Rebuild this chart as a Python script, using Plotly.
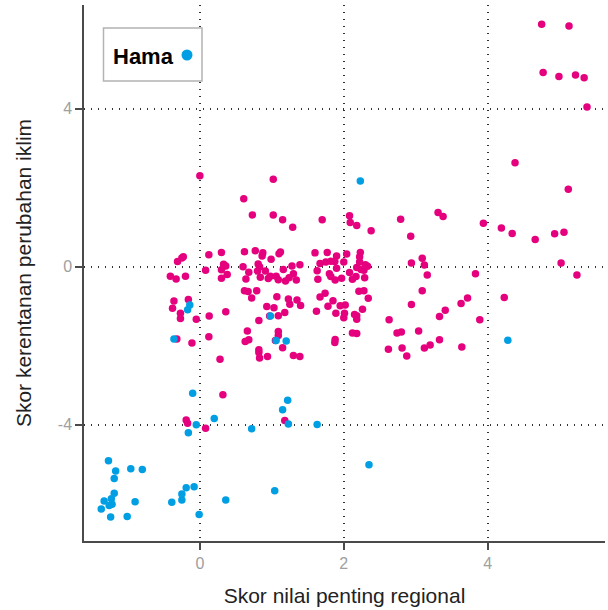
import plotly.graph_objects as go

# Pink points (non-pest): regional importance score vs climate vulnerability score
pink_x = [0.00, 1.02, 0.61, 4.75, 5.13, 4.77, 4.99, 5.22, 5.34, 5.38, 4.38, 5.12,
          0.73, 1.02, 1.15, 1.29, 1.70, -0.23, -0.31, -0.25, 0.125, 0.30, 0.62, 0.77,
          0.875, 0.865, 0.99, 1.10, 1.12, 1.60, 1.77, 1.90, 0.33, 0.36, 0.60, 0.81,
          0.83, 1.16, 1.28, 1.39, 1.67, 1.75, 1.82, 1.875, 1.90, 1.63, 0.08, -0.41,
          -0.33, -0.20, 0.30, 0.30, 0.38, 0.64, 0.68, 0.80, 0.84, 0.91, 0.95, 0.98,
          1.06, 1.09, 1.19, 1.24, 1.30, 1.34, 1.64, 1.80, 1.82, 1.88, 0.62, 0.67,
          0.79, 0.72, 1.07, 1.23, 1.25, 1.35, 1.40, 1.67, 1.74, 1.85, 1.78, 1.89,
          1.62, -0.36, -0.38, -0.16, -0.27, -0.27, -0.05, 0.13, 0.36, 0.93, 1.03, 0.97,
          1.09, 1.18, 0.82, 0.66, 0.63, 0.68, 1.09, 1.09, 1.05, 1.15, 0.82, -0.32,
          -0.11, 0.125, 1.88, 1.875,
          2.08, 2.09, 2.18, 2.38, 2.79, 2.93, 3.31, 3.38, 3.94, 4.19, 4.34, 4.66,
          4.93, 5.06, 5.02, 5.24, 2.04, 2.00, 2.23, 2.22, 2.22, 2.18, 2.24, 2.30,
          2.33, 2.28, 2.29, 2.08, 2.12, 2.17, 1.97, 2.94, 3.09, 3.12, 3.16, 3.83,
          2.21, 2.28, 2.34, 2.02, 1.95, 2.26, 2.01, 2.00, 2.15, 2.18, 2.18, 2.63,
          2.94, 3.09, 3.33, 3.41, 3.63, 3.72, 3.89, 4.23, 2.12, 2.18, 2.74, 2.80,
          3.04, 2.62, 2.81, 3.12, 3.20, 3.33, 3.64, 2.875,
          0.82, 0.83, 0.94, 1.30, 1.39, 0.28, 0.32, -0.19, -0.17, 0.08, 1.18]
pink_y = [2.30, 2.21, 1.72, 6.13, 6.09, 4.91, 4.81, 4.85, 4.78, 4.04, 2.63, 1.96,
          1.31, 1.31, 1.19, 1.00, 1.19, 0.25, 0.13, 0.22, 0.30, 0.36, 0.38, 0.40,
          0.35, 0.27, 0.19, 0.33, 0.37, 0.35, 0.36, 0.27, 0.06, 0.02, 0.00, 0.07,
          0.00, -0.07, 0.02, 0.05, 0.08, 0.12, 0.14, 0.13, -0.04, -0.10, -0.09, -0.24,
          -0.31, -0.24, -0.29, -0.08, -0.20, -0.31, -0.14, -0.11, -0.27, -0.11, -0.30, -0.24,
          -0.24, -0.33, -0.36, -0.28, -0.18, -0.34, -0.32, -0.18, -0.25, -0.34, -0.61, -0.63,
          -0.61, -0.79, -0.76, -0.82, -0.95, -0.84, -0.98, -0.77, -0.67, -0.86, -1.00, -1.18,
          -1.13, -0.87, -1.05, -0.83, -1.18, -1.31, -1.33, -1.25, -1.14, -1.01, -1.04, -1.25,
          -1.24, -1.16, -1.36, -1.63, -1.89, -1.85, -1.64, -1.74, -1.87, -2.05, -2.10, -1.83,
          -1.93, -1.77, -1.84, -1.92,
          1.29, 1.12, 1.04, 0.91, 1.20, 0.77, 1.37, 1.27, 1.10, 0.98, 0.84, 0.69,
          0.83, 0.87, 0.09, -0.21, 0.32, 0.12, 0.36, 0.25, 0.12, -0.02, -0.07, 0.05,
          0.01, -0.09, -0.28, -0.15, -0.32, -0.25, -0.29, 0.09, 0.21, 0.04, -0.21, -0.18,
          -0.62, -0.61, -0.80, -0.97, -0.99, -1.08, -1.18, -1.29, -1.21, -1.24, -1.33, -1.34,
          -0.96, -0.61, -1.26, -1.10, -0.93, -0.79, -1.34, -0.78, -1.68, -1.69, -1.68, -1.65,
          -1.63, -2.09, -2.06, -2.06, -1.98, -1.85, -2.03, -2.26,
          -2.17, -2.31, -2.27, -2.25, -2.27, -2.34, -3.24, -3.88, -3.96, -4.09, -3.89]

# Blue points: "Hama" (pests)
blue_x = [2.23, -0.14, -0.17, 0.98, -0.36, 1.06, 1.20, 4.28, 2.35,
          -0.10, 1.22, 1.15, -0.05, -0.16, 0.20, 0.72, 1.23, 1.63,
          -1.27, -1.17, -1.19, -0.96, -0.80, -1.19, -1.23, -1.33, -1.22, -1.26,
          -1.37, -1.24, -1.01, -0.90, -0.39, -0.25, -0.25, -0.19, -0.08, -0.01,
          0.36, 1.04]
blue_y = [2.17, -0.97, -1.09, -1.25, -1.83, -1.87, -1.88, -1.86, -5.01,
          -3.20, -3.38, -3.62, -4.00, -4.20, -3.84, -4.10, -3.98, -3.99,
          -4.91, -5.17, -5.36, -5.11, -5.13, -5.73, -5.87, -5.93, -6.01, -6.04,
          -6.13, -6.33, -6.32, -5.95, -5.96, -5.90, -5.75, -5.59, -5.57, -6.27,
          -5.90, -5.67]

x_ticks = [0, 2, 4]
y_ticks = [-4, 0, 4]
legend_label = "Hama"

PINK = "#E5007E"
BLUE = "#009FE3"
FONT = "Liberation Sans, Arial, Helvetica, sans-serif"

W, H = 608, 610
ML, MR, MT, MB = 84, 3, 5, 69
PW, PH = W - ML - MR, H - MT - MB


def px_x(p):
    return (p - ML) / PW


def px_y(p):
    return (H - MB - p) / PH


fig = go.Figure()
fig.add_trace(go.Scatter(
    x=pink_x, y=pink_y, mode="markers", showlegend=False,
    marker=dict(color=PINK, size=7.5, line=dict(width=0)),
))
fig.add_trace(go.Scatter(
    x=blue_x, y=blue_y, mode="markers", name=legend_label, showlegend=False,
    marker=dict(color=BLUE, size=7.5, line=dict(width=0)),
))

axis_common = dict(
    showline=True, linecolor="#4a4a4a", linewidth=1.5,
    ticks="outside", ticklen=7, tickwidth=1.5, tickcolor="#4a4a4a",
    tickfont=dict(family=FONT, size=16, color="#a0a0a0"),
    showgrid=True, gridcolor="#333333", gridwidth=1.5, griddash="1px,6px",
    zeroline=False, mirror=False,
)

# Legend box (drawn manually so the marker sits to the right of the label)
shapes = [
    dict(type="rect", xref="paper", yref="paper",
         x0=px_x(103.5), x1=px_x(202), y0=px_y(81), y1=px_y(28),
         line=dict(color="#b3b3b3", width=1.5), fillcolor="white", layer="above"),
    dict(type="circle", xref="paper", yref="paper",
         x0=px_x(181.5), x1=px_x(192.5), y0=px_y(60.5), y1=px_y(49.5),
         line=dict(width=0), fillcolor=BLUE, layer="above"),
]
annotations = [
    dict(text="<b>%s</b>" % legend_label, xref="paper", yref="paper",
         x=px_x(111), y=px_y(56), xanchor="left", yanchor="middle",
         showarrow=False, font=dict(family=FONT, size=22, color="black")),
]

fig.update_layout(
    width=W, height=H,
    margin=dict(l=ML, r=MR, t=MT, b=MB),
    paper_bgcolor="white", plot_bgcolor="white",
    font=dict(family=FONT, color="#222222"),
    showlegend=False,
    xaxis=dict(range=[-1.61, 5.63], tickvals=x_ticks, ticktext=[str(v) for v in x_ticks],
               title=dict(text="Skor nilai penting regional", font=dict(family=FONT, size=21, color="#222222"), standoff=17),
               **axis_common),
    yaxis=dict(range=[-6.94, 6.62], tickvals=y_ticks, ticktext=[str(v) for v in y_ticks],
               title=dict(text="Skor kerentanan perubahan iklim", font=dict(family=FONT, size=21, color="#222222"), standoff=20),
               **axis_common),
    shapes=shapes,
    annotations=annotations,
)

fig.write_html("out.html")
